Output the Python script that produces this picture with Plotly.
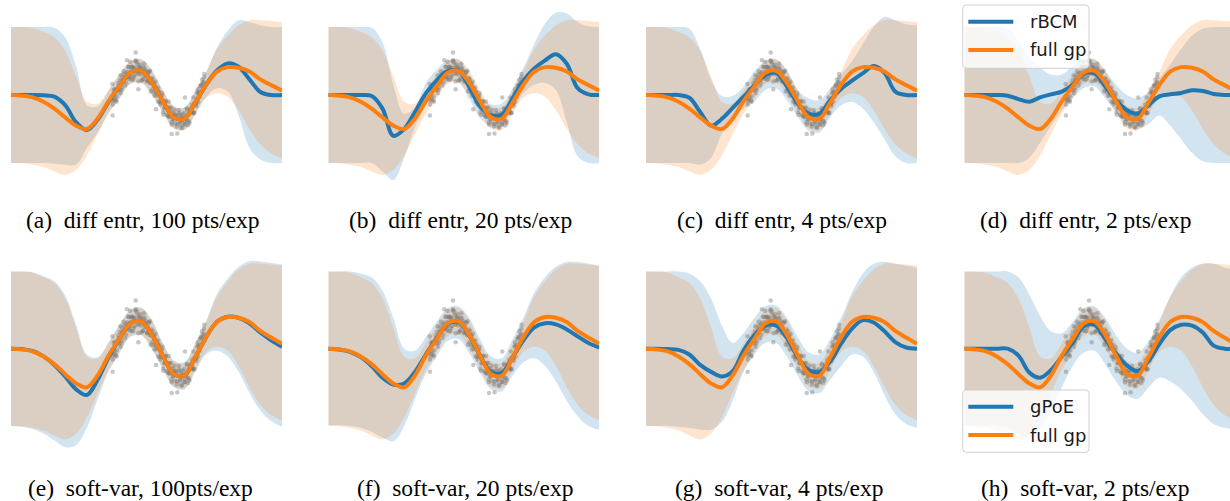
import plotly.graph_objects as go

# ---------------- data ----------------
X_GRID = [0, 4, 8, 12, 16, 20, 24, 28, 32, 36, 40, 44, 48, 52, 56, 60, 64, 68, 72, 76, 80, 84, 88, 92, 96, 100]

FULL_MEAN = [0, -0.02, -0.07, -0.2, -0.4, -0.66, -0.9, -1.0, -0.69, -0.18, 0.25, 0.65, 0.71, 0.36, -0.18, -0.65, -0.7, -0.22, 0.3, 0.69, 0.82, 0.8, 0.69, 0.46, 0.29, 0.13]
FULL_UPPER = [2.0, 2.0, 1.97, 1.85, 1.7, 1.3, 0.55, -0.2, -0.25, 0.15, 0.6, 0.98, 1.05, 0.72, 0.14, -0.32, -0.37, 0.12, 0.68, 1.35, 1.75, 2.05, 2.2, 2.2, 2.18, 2.15]
FULL_LOWER = [-2.0, -2.01, -2.05, -2.12, -2.25, -2.35, -2.2, -1.78, -1.15, -0.55, -0.1, 0.32, 0.37, 0.0, -0.5, -0.98, -1.03, -0.56, -0.08, 0.05, -0.05, -0.45, -1.0, -1.45, -1.72, -1.86]

# (a) rBCM, diff entr, 100 pts/exp
MEAN_A = [0, 0, 0, -0.01, -0.05, -0.3, -0.8, -1.03, -0.72, -0.2, 0.25, 0.65, 0.71, 0.36, -0.18, -0.65, -0.7, -0.22, 0.3, 0.72, 0.93, 0.83, 0.46, 0.09, 0.0, 0.0]
UPPER_A = [2.0, 2.0, 2.0, 2.0, 1.98, 1.7, 0.85, -0.3, -0.33, 0.12, 0.6, 0.98, 1.05, 0.72, 0.14, -0.32, -0.37, 0.12, 0.66, 1.4, 1.9, 2.2, 2.15, 2.05, 2.0, 2.0]
LOWER_A = [-2.0, -2.0, -2.0, -2.0, -2.02, -2.05, -2.05, -1.55, -1.1, -0.52, -0.1, 0.32, 0.37, 0.0, -0.5, -0.98, -1.03, -0.56, -0.06, 0.2, 0.1, -0.6, -1.55, -1.9, -2.0, -2.0]
# (b) rBCM, diff entr, 20 pts/exp
MEAN_B = [0, 0, 0, 0, -0.03, -0.4, -1.2, -1.0, -0.5, 0.05, 0.43, 0.7, 0.72, 0.24, -0.34, -0.6, -0.58, -0.1, 0.42, 0.78, 1.02, 1.2, 0.92, 0.2, 0.02, 0.0]
UPPER_B = [2.0, 2.0, 2.0, 2.0, 1.98, 1.55, 0.3, -0.55, -0.35, 0.35, 0.75, 1.02, 1.05, 0.6, 0.0, -0.28, -0.25, 0.2, 0.8, 1.5, 2.1, 2.42, 2.4, 2.15, 2.02, 2.0]
LOWER_B = [-2.0, -2.0, -2.0, -2.0, -2.0, -2.25, -2.5, -1.85, -0.95, -0.3, 0.1, 0.38, 0.38, -0.12, -0.68, -0.95, -0.92, -0.42, 0.05, 0.3, 0.35, 0.15, -0.8, -1.8, -2.0, -2.0]
# (c) rBCM, diff entr, 4 pts/exp
MEAN_C = [0, 0, 0, 0, -0.08, -0.5, -0.9, -0.7, -0.38, -0.05, 0.28, 0.58, 0.65, 0.25, -0.25, -0.55, -0.55, -0.15, 0.18, 0.42, 0.64, 0.85, 0.65, 0.1, 0.0, 0.0]
UPPER_C = [2.0, 2.0, 2.0, 2.0, 1.95, 1.35, 0.45, -0.03, -0.03, 0.25, 0.7, 1.0, 1.05, 0.72, 0.15, -0.1, -0.15, 0.2, 0.6, 1.0, 1.5, 2.0, 2.3, 2.2, 2.08, 2.05]
LOWER_C = [-2.0, -2.0, -2.0, -2.0, -2.0, -2.05, -1.85, -1.15, -0.75, -0.4, -0.2, 0.15, 0.2, -0.15, -0.65, -1.05, -1.1, -0.65, -0.3, -0.2, -0.4, -0.8, -1.3, -1.8, -2.0, -2.0]
# (d) rBCM, diff entr, 2 pts/exp
MEAN_D = [0, 0, 0, 0, -0.02, -0.12, -0.2, -0.07, 0.02, 0.1, 0.3, 0.62, 0.64, 0.25, -0.15, -0.45, -0.55, -0.3, -0.04, 0.02, 0.06, 0.14, 0.12, 0.03, 0.0, 0.0]
UPPER_D = [2.0, 2.0, 2.0, 2.0, 1.95, 1.6, 1.1, 0.8, 0.6, 0.6, 0.85, 1.05, 1.05, 0.7, 0.3, 0.0, -0.1, 0.1, 0.5, 0.9, 1.35, 1.75, 1.95, 2.0, 2.0, 2.0]
LOWER_D = [-2.0, -2.0, -2.0, -2.0, -2.0, -2.0, -1.85, -1.4, -0.9, -0.45, -0.1, 0.2, 0.25, -0.1, -0.5, -0.9, -1.0, -0.85, -0.6, -0.9, -1.3, -1.7, -1.95, -2.0, -2.0, -2.0]
# (e) gPoE, soft-var, 100 pts/exp
MEAN_E = [0, -0.01, -0.06, -0.2, -0.42, -0.72, -1.05, -1.2, -0.8, -0.22, 0.25, 0.65, 0.71, 0.36, -0.18, -0.65, -0.7, -0.22, 0.3, 0.7, 0.83, 0.8, 0.66, 0.42, 0.22, 0.05]
UPPER_E = [2.0, 2.0, 1.98, 1.88, 1.75, 1.38, 0.62, -0.15, -0.22, 0.17, 0.62, 1.0, 1.07, 0.74, 0.16, -0.3, -0.35, 0.15, 0.72, 1.42, 1.82, 2.12, 2.27, 2.26, 2.22, 2.18]
LOWER_E = [-2.0, -2.02, -2.08, -2.2, -2.38, -2.55, -2.5, -2.05, -1.3, -0.6, -0.12, 0.3, 0.35, -0.02, -0.52, -1.0, -1.05, -0.6, -0.15, -0.05, -0.2, -0.6, -1.15, -1.6, -1.87, -2.02]
# (f) gPoE, soft-var, 20 pts/exp
MEAN_F = [0, -0.02, -0.08, -0.22, -0.45, -0.75, -0.93, -0.9, -0.6, -0.15, 0.27, 0.63, 0.69, 0.34, -0.18, -0.6, -0.63, -0.22, 0.22, 0.55, 0.66, 0.63, 0.5, 0.32, 0.15, 0.03]
UPPER_F = [2.0, 2.0, 2.0, 1.95, 1.85, 1.5, 0.8, 0.0, -0.05, 0.3, 0.7, 1.05, 1.1, 0.8, 0.25, -0.2, -0.25, 0.25, 0.8, 1.45, 1.85, 2.12, 2.25, 2.25, 2.2, 2.15]
LOWER_F = [-1.98, -1.98, -2.0, -2.05, -2.15, -2.3, -2.4, -2.0, -1.3, -0.65, -0.2, 0.2, 0.25, -0.12, -0.62, -1.05, -1.1, -0.7, -0.35, -0.25, -0.45, -0.85, -1.35, -1.75, -2.0, -2.1]
# (g) gPoE, soft-var, 4 pts/exp
MEAN_G = [0, 0, -0.01, -0.03, -0.15, -0.42, -0.6, -0.72, -0.58, -0.05, 0.35, 0.6, 0.6, 0.28, -0.22, -0.55, -0.6, -0.33, 0.13, 0.52, 0.74, 0.68, 0.45, 0.17, 0.03, 0.0]
UPPER_G = [2.0, 2.0, 2.0, 2.0, 1.95, 1.75, 1.3, 0.6, 0.15, 0.4, 0.8, 1.1, 1.12, 0.8, 0.3, -0.1, -0.15, 0.25, 0.8, 1.45, 1.95, 2.2, 2.25, 2.2, 2.15, 2.1]
LOWER_G = [-2.0, -2.0, -2.0, -2.02, -2.05, -2.1, -2.1, -1.9, -1.35, -0.6, -0.15, 0.15, 0.15, -0.2, -0.7, -1.1, -1.15, -0.8, -0.45, -0.15, -0.2, -0.6, -1.2, -1.7, -1.95, -2.05]
# (h) gPoE, soft-var, 2 pts/exp
MEAN_H = [0, 0, 0, 0, 0, -0.18, -0.62, -0.75, -0.55, -0.2, 0.15, 0.58, 0.62, 0.25, -0.12, -0.43, -0.58, -0.32, 0.12, 0.48, 0.62, 0.6, 0.42, 0.08, 0.0, 0.0]
UPPER_H = [2.0, 2.0, 2.0, 2.0, 2.0, 1.85, 1.4, 0.85, 0.45, 0.4, 0.7, 1.05, 1.1, 0.8, 0.35, 0.0, -0.1, 0.2, 0.75, 1.35, 1.85, 2.1, 2.2, 2.2, 2.1, 2.05]
LOWER_H = [-2.0, -2.0, -2.0, -2.0, -2.05, -2.2, -2.3, -2.1, -1.6, -1.0, -0.45, -0.1, -0.05, -0.4, -0.85, -1.2, -1.3, -1.0, -0.75, -0.85, -1.05, -1.35, -1.7, -1.95, -2.05, -2.1]

# training points (same in every panel)
POINTS_X = [
    37.2, 37.55, 37.9, 38.25, 38.6, 38.95, 39.3, 39.65, 40.0, 40.35,
    40.7, 41.05, 41.4, 41.75, 42.1, 42.45, 42.8, 43.15, 43.5, 43.85,
    44.2, 44.55, 44.9, 45.25, 45.6, 45.95, 46.3, 46.65, 47.0, 47.35,
    47.7, 48.05, 48.4, 48.75, 49.1, 49.45, 49.8, 50.15, 50.5, 50.85,
    51.2, 51.55, 51.9, 52.25, 52.6, 52.95, 53.3, 53.65, 54.0, 54.35,
    54.7, 55.05, 55.4, 55.75, 56.1, 56.45, 56.8, 57.15, 57.5, 57.85,
    58.2, 58.55, 58.9, 59.25, 59.6, 59.95, 60.3, 60.65, 61.0, 61.35,
    61.7, 62.05, 62.4, 62.75, 63.1, 63.45, 63.8, 64.15, 64.5, 64.85,
    65.2, 65.55, 65.9, 66.25, 66.6, 66.95, 67.3, 67.65, 68.0, 68.35,
    68.7, 69.05, 69.4, 69.75, 70.1, 70.45, 70.8, 71.15, 71.5,
    37.37, 38.07, 38.77, 39.47, 40.17, 40.87, 41.57, 42.27, 42.97, 43.67,
    44.37, 45.07, 45.77, 46.47, 47.17, 47.87, 48.57, 49.27, 49.97, 50.67,
    51.37, 52.07, 52.77, 53.47, 54.17, 54.87, 55.57, 56.27, 56.97, 57.67,
    58.37, 59.07, 59.77, 60.47, 61.17, 61.87, 62.57, 63.27, 63.97, 64.67,
    65.37, 66.07, 66.77, 67.47, 68.17, 68.87, 69.57, 70.27, 70.97,
    37.6, 38.3, 39.0, 39.7, 40.4, 41.1, 41.8, 42.5, 43.2, 43.9,
    44.6, 45.3, 46.0, 46.7, 47.4, 48.1, 48.8, 49.5, 50.2, 50.9,
    51.6, 52.3, 53.0, 53.7, 54.4, 55.1, 55.8, 56.5, 57.2, 57.9,
    58.6, 59.3, 60.0, 60.7, 61.4, 62.1, 62.8, 63.5, 64.2, 64.9,
    65.6, 66.3, 67.0, 67.7, 68.4, 69.1, 69.8, 70.5, 71.2,
    71.3, 37.5, 46.0, 59.3, 47.0, 53.5, 64.2, 37.4, 44.0,
]
POINTS_Y = [
    -0.10, -0.28, 0.15, -0.07, 0.15, -0.20, 0.16, 0.35, 0.13, 0.58,
    0.15, 0.43, 0.40, 0.60, 0.28, 0.64, 1.02, 0.52, 0.82, 0.53,
    0.70, 0.45, 0.83, 0.80, 0.58, 0.99, 0.71, 0.88, 0.40, 0.83,
    0.89, 0.60, 0.70, 0.47, 0.92, 0.56, 0.71, 0.42, 0.57, 0.68,
    0.35, 0.10, 0.50, 0.35, 0.09, 0.29, 0.39, -0.01, 0.08, -0.20,
    0.09, -0.04, -0.22, -0.02, -0.51, -0.19, -0.37, -0.18, -0.58, -0.40,
    -0.19, -0.65, -0.54, -0.80, -0.50, -0.72, -0.44, -0.84, -0.63, -1.13,
    -0.71, -0.58, -0.83, -0.64, -0.96, -0.67, -0.53, -0.87, -0.69, -0.39,
    -0.75, -0.53, -0.82, -0.40, -0.49, -0.54, -0.07, -0.53, -0.24, -0.32,
    0.05, -0.20, 0.08, 0.02, 0.28, 0.45, 0.15, 0.38, 0.22,
    -0.03, -0.14, -0.16, 0.21, 0.44, 0.21, 0.70, 0.50, 0.68, 0.47,
    0.83, 0.46, 0.78, 0.96, 0.63, 0.79, 0.45, 0.79, 0.58, 0.42,
    0.71, 0.17, 0.35, 0.09, 0.22, -0.20, -0.14, -0.58, -0.21, -0.37,
    -0.63, -0.38, -0.71, -0.57, -0.93, -0.45, -0.79, -0.57, -0.86, -0.62,
    -0.89, -0.46, -0.29, -0.53, -0.27, 0.17, -0.06, 0.31, 0.35,
    -0.18, 0.18, -0.04, 0.27, 0.05, 0.53, 0.48, 0.37, 0.83, 0.59,
    0.81, 0.54, 1.02, 0.63, 0.78, 0.42, 0.80, 0.68, 0.40, 0.68,
    0.36, 0.46, -0.02, 0.19, 0.12, -0.28, 0.05, -0.38, -0.38, -0.62,
    -0.37, -0.87, -0.60, -0.57, -0.85, -0.54, -0.94, -0.70, -0.79, -0.43,
    -0.77, -0.46, -0.48, -0.23, -0.24, 0.08, 0.26, 0.12, 0.52,
    0.62, -0.60, 1.25, -1.15, 0.17, -0.42, -0.07, 0.32, 0.98,
]

METHOD_NAMES = ["rBCM", "rBCM", "rBCM", "rBCM", "gPoE", "gPoE", "gPoE", "gPoE"]
CAPTIONS = [
    "(a)\u00a0 diff entr, 100 pts/exp", "(b)\u00a0 diff entr, 20 pts/exp",
    "(c)\u00a0 diff entr, 4 pts/exp", "(d)\u00a0 diff entr, 2 pts/exp",
    "(e)\u00a0 soft-var, 100pts/exp", "(f)\u00a0 soft-var, 20 pts/exp",
    "(g)\u00a0 soft-var, 4 pts/exp", "(h)\u00a0 soft-var, 2 pts/exp",
]
METHOD_MEANS = [MEAN_A, MEAN_B, MEAN_C, MEAN_D, MEAN_E, MEAN_F, MEAN_G, MEAN_H]
METHOD_UPPERS = [UPPER_A, UPPER_B, UPPER_C, UPPER_D, UPPER_E, UPPER_F, UPPER_G, UPPER_H]
METHOD_LOWERS = [LOWER_A, LOWER_B, LOWER_C, LOWER_D, LOWER_E, LOWER_F, LOWER_G, LOWER_H]
LEGEND_LABELS = [["rBCM", "full gp"], ["gPoE", "full gp"]]

# ---------------- layout geometry ----------------
W, H = 1230, 501
COL_PX = [(11, 282), (328.3, 599.3), (646, 917), (964.3, 1235.3)]
ROW_PX = [(0, 190, 95, 34.0), (245, 460, 348.7, 38.6)]  # top, bottom, zero-line px, px per unit
CAP_X = [142.5, 460.5, 781.5, 1085.5, 140.5, 464.5, 779.5, 1085]
CAP_Y = [220, 220, 220, 220, 488, 488, 488, 488]
LEG_BOX = [(962.7, 5, 1089, 68.3), (962.7, 390, 1089, 452.3)]
LEG_ROWS = [(21.7, 50), (406.7, 435)]

BLUE = "#1f77b4"
ORANGE = "#ff7f0e"
BLUE_FILL = "rgba(31,119,180,0.2)"
ORANGE_FILL = "rgba(255,127,14,0.2)"

fig = go.Figure()
layout = {}
for k in range(8):
    r, c = divmod(k, 4)
    l, rt = COL_PX[c]
    rr = min(rt, W)
    xr = [0, (rr - l) / (rt - l) * 100]
    t, b, z, s = ROW_PX[r]
    yr = [(z - b) / s, (z - t) / s]
    xa = "xaxis" if k == 0 else f"xaxis{k+1}"
    ya = "yaxis" if k == 0 else f"yaxis{k+1}"
    xs = "x" if k == 0 else f"x{k+1}"
    ys = "y" if k == 0 else f"y{k+1}"
    layout[xa] = dict(domain=[l / W, rr / W], range=xr, visible=False, anchor=ys, fixedrange=True)
    layout[ya] = dict(domain=[1 - b / H, 1 - t / H], range=yr, visible=False, anchor=xs, fixedrange=True)

    common = dict(xaxis=xs, yaxis=ys, hoverinfo="skip", showlegend=False)
    # method band
    fig.add_trace(go.Scatter(x=X_GRID, y=METHOD_LOWERS[k], mode="lines",
                             line=dict(width=0, shape="spline", color=BLUE), **common))
    fig.add_trace(go.Scatter(x=X_GRID, y=METHOD_UPPERS[k], mode="lines", fill="tonexty",
                             fillcolor=BLUE_FILL, line=dict(width=0, shape="spline", color=BLUE), **common))
    # full gp band
    fig.add_trace(go.Scatter(x=X_GRID, y=FULL_LOWER, mode="lines",
                             line=dict(width=0, shape="spline", color=ORANGE), **common))
    fig.add_trace(go.Scatter(x=X_GRID, y=FULL_UPPER, mode="lines", fill="tonexty",
                             fillcolor=ORANGE_FILL, line=dict(width=0, shape="spline", color=ORANGE), **common))
    # data points
    fig.add_trace(go.Scatter(x=POINTS_X, y=POINTS_Y, mode="markers",
                             marker=dict(size=4.5, color="rgba(115,115,115,0.4)", line=dict(width=0)),
                             **common))
    # mean lines
    fig.add_trace(go.Scatter(x=X_GRID, y=METHOD_MEANS[k], mode="lines", name=METHOD_NAMES[k],
                             line=dict(width=4, shape="spline", color=BLUE), **common))
    fig.add_trace(go.Scatter(x=X_GRID, y=FULL_MEAN, mode="lines", name="full gp",
                             line=dict(width=4, shape="spline", color=ORANGE), **common))

annotations = []
for k in range(8):
    annotations.append(dict(text=CAPTIONS[k], x=CAP_X[k] / W, y=1 - CAP_Y[k] / H,
                            xref="paper", yref="paper", showarrow=False,
                            xanchor="center", yanchor="middle",
                            font=dict(family="Liberation Serif", size=23.5, color="black")))


def rounded_rect(x0, y0, x1, y1, rad):
    # pixel coords (top-left origin) -> paper path
    def P(x, y):
        return f"{x / W:.5f},{1 - y / H:.5f}"
    return (f"M {P(x0 + rad, y0)} L {P(x1 - rad, y0)} Q {P(x1, y0)} {P(x1, y0 + rad)} "
            f"L {P(x1, y1 - rad)} Q {P(x1, y1)} {P(x1 - rad, y1)} "
            f"L {P(x0 + rad, y1)} Q {P(x0, y1)} {P(x0, y1 - rad)} "
            f"L {P(x0, y0 + rad)} Q {P(x0, y0)} {P(x0 + rad, y0)} Z")


shapes = []
for i in range(2):
    x0, y0, x1, y1 = LEG_BOX[i]
    shapes.append(dict(type="path", xref="paper", yref="paper", path=rounded_rect(x0, y0, x1, y1, 4),
                       fillcolor="rgba(255,255,255,0.8)", line=dict(color="#d0d0d0", width=1)))
    for j, col in enumerate([BLUE, ORANGE]):
        yy = LEG_ROWS[i][j]
        shapes.append(dict(type="line", xref="paper", yref="paper",
                           x0=968.3 / W, x1=1013.3 / W, y0=1 - yy / H, y1=1 - yy / H,
                           line=dict(color=col, width=4)))
        annotations.append(dict(text=LEGEND_LABELS[i][j], x=1027.7 / W, y=1 - yy / H,
                                xref="paper", yref="paper", showarrow=False,
                                xanchor="left", yanchor="middle",
                                font=dict(family="DejaVu Sans", size=18, color="#1a1a1a")))

fig.update_layout(
    width=W, height=H,
    margin=dict(l=0, r=0, t=0, b=0),
    paper_bgcolor="white", plot_bgcolor="rgba(0,0,0,0)",
    showlegend=False,
    annotations=annotations,
    shapes=shapes,
    **layout,
)

fig.write_html("out.html", config={"displayModeBar": False, "staticPlot": True},
               post_script="document.body.style.margin='0px';document.body.style.padding='0px';")
